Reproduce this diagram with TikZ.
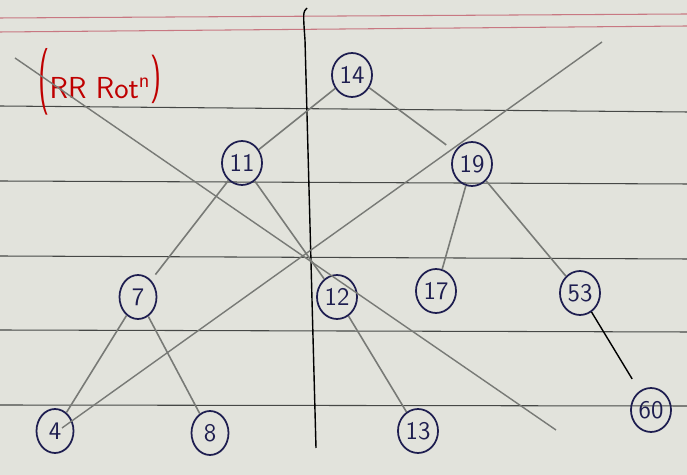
\documentclass[tikz,border=0pt]{standalone}
\usepackage{tikz}
\usetikzlibrary{shapes.geometric, positioning}

\definecolor{paper}{RGB}{226,227,220}
\definecolor{ink}{RGB}{30,30,80}
\definecolor{pencil}{RGB}{120,122,118}
\definecolor{rule}{RGB}{70,72,70}
\definecolor{margin}{RGB}{200,120,130}

\begin{document}
\begin{tikzpicture}[
        x=0.02cm, y=-0.02cm,
        key/.style={ellipse, draw=ink, line width=1pt, minimum width=0.74cm, minimum height=0.88cm, inner sep=1pt, text=ink, font=\sffamily\Large},
        edge/.style={draw=pencil, line width=0.9pt},
        strike/.style={draw=pencil, line width=0.8pt},
        ruled/.style={draw=rule, line width=0.6pt}
    ]
%
    % Page
    \fill[paper] (0,0) rectangle (687,475);
    \useasboundingbox (0,0) rectangle (687,475);
    \draw[margin, line width=0.6pt] (0,18) -- (687,14);
    \draw[margin, line width=0.6pt] (0,32) -- (687,26);
    \foreach \y/\z in {106/112, 181/184, 256/259, 330/332, 405/406}
        \draw[ruled] (0,\y) -- (687,\z);
    \draw[black, line width=0.8pt] (307,8) .. controls (303,12) .. (305,40) -- (316,448);
%
    % Nodes
    \node[text=red!75!black, font=\sffamily\LARGE, inner sep=0pt] (title) at (100,82) {\scalebox{1}[2.2]{(}RR Rot\textsuperscript{n}\raisebox{4pt}{\scalebox{1}[1.6]{)}}};
    \node[key] (n14) at (352,75) {14};
    \node[key] (n11) at (242,163) {11};
    \node[key] (n19) at (472,164) {19};
    \node[key] (n7) at (138,297) {7};
    \node[key] (n12) at (337,297) {12};
    \node[key] (n17) at (436,291) {17};
    \node[key] (n53) at (580,293) {53};
    \node[key] (n4) at (55,431) {4};
    \node[key] (n8) at (210,433) {8};
    \node[key] (n13) at (418,431) {13};
    \node[key] (n60) at (651,410) {60};
%
    % Edges
    \draw[edge] (n14) -- (n11);
    \draw[edge, shorten >=6pt] (n14) -- (n19);
    \draw[edge, shorten >=4pt] (n11) -- (n7);
    \draw[edge] (n11) -- (n12);
    \draw[edge] (n19) -- (n17);
    \draw[edge] (n19) -- (n53);
    \draw[edge] (n7) -- (n4);
    \draw[edge] (n7) -- (n8);
    \draw[edge] (n12) -- (n13);
    \draw[black, line width=0.8pt, shorten >=8pt] (n53) -- (n60);
%
    % Crossed out
    \coordinate (xa) at (15,58);
    \coordinate (xb) at (556,430);
    \coordinate (ya) at (602,42);
    \coordinate (yb) at (62,428);
    \draw[strike] (xa) -- (xb);
    \draw[strike] (ya) -- (yb);
%
\end{tikzpicture}
\end{document}
